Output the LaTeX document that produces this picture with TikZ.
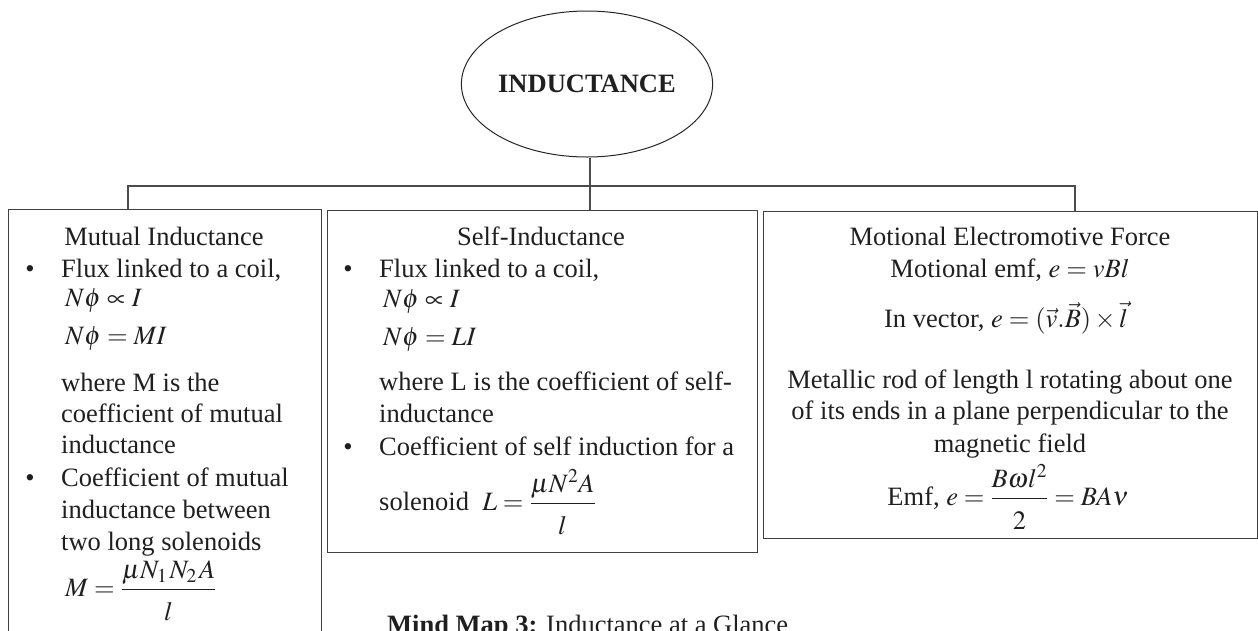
\documentclass[tikz,border=0pt]{standalone}
\usepackage{amsmath}
\usepackage{mathptmx}
\usepackage[no-math]{fontspec}
\setmainfont{Liberation Serif}
\usetikzlibrary{shapes.geometric}
\newcommand\mmfont{\fontsize{26.5}{32}\selectfont}
\newcommand\mmden[1]{\raisebox{-6pt}{$#1$}}
\begin{document}
\begin{tikzpicture}[x=1pt,y=-1pt,
  boxnode/.style={draw=black!75, line width=1.1pt, rectangle, inner sep=0pt, anchor=north west},
  txt/.style={inner sep=0pt, text=black!88, font=\mmfont, anchor=base west},
  ctxt/.style={inner sep=0pt, text=black!88, font=\mmfont, anchor=base},
  bul/.style={inner sep=0pt, text=black!88, font=\mmfont, anchor=base},
  link/.style={draw=black!70, line width=1.2pt}]
\useasboundingbox (0,0) rectangle (1258,630);
\clip (0,0) rectangle (1258,630);
% title ellipse
\node[ellipse, draw=black!85, line width=1pt, minimum width=196pt, minimum height=146pt, inner sep=0pt,
      font=\mmfont\bfseries, text=black!88] (e) at (587,84) {INDUCTANCE};
% boxes
\node[boxnode, minimum width=313pt, minimum height=440pt] (b1) at (8,209) {};
\node[boxnode, minimum width=430pt, minimum height=342pt] (b2) at (327,210) {};
\node[boxnode, minimum width=494pt, minimum height=327pt] (b3) at (763,211) {};
% connectors
\coordinate (j) at (590,186);
\coordinate (hl) at (128,186);
\coordinate (hr) at (1075,186);
\draw[link] (e.south -| j) -- (b2.north -| j);
\draw[link] (b1.north -| hl) -- (hl) -- (hr) -- (b3.north -| hr);
% box 1
\node[ctxt] (t11) at (164,245) {Mutual Inductance};
\node[bul] (u11) at (30,277) {•};
\node[txt] (t12) at (61,277) {Flux linked to a coil,};
\node[txt] (t13) at (65,306) {$N\phi \propto I$};
\node[txt] (t14) at (65,344) {$N\phi = MI$};
\node[txt] (t15) at (61,391) {where M is the};
\node[txt] (t16) at (61,422) {coefficient of mutual};
\node[txt] (t17) at (61,453) {inductance};
\node[bul] (u12) at (30,486) {•};
\node[txt] (t18) at (61,486) {Coefficient of mutual};
\node[txt] (t19) at (61,518) {inductance between};
\node[txt] (t1a) at (61,550) {two long solenoids};
\node[txt] (t1b) at (65,596) {$M = \dfrac{\mu N_{1\,} N_{2\,} A}{\mmden{l}}$};
% box 2
\node[ctxt] (t21) at (541,245) {Self-Inductance};
\node[bul] (u21) at (348,277) {•};
\node[txt] (t22) at (379,277) {Flux linked to a coil,};
\node[txt] (t23) at (383,307) {$N\phi \propto I$};
\node[txt] (t24) at (383,345) {$N\phi = LI$};
\node[txt] (t25) at (379,390) {where L is the coefficient of self-};
\node[txt] (t26) at (379,422) {inductance};
\node[bul] (u22) at (348,455) {•};
\node[txt] (t27) at (379,455) {Coefficient of self induction for a};
\node[txt] (t28) at (379,510) {solenoid\ \ $L = \dfrac{\mu N^2 A}{\mmden{l}}$};
% box 3
\node[ctxt] (t31) at (1010,245) {Motional Electromotive Force};
\node[ctxt] (t32) at (1010,277) {Motional emf, $e = vBl$};
\node[ctxt] (t33) at (1006,327) {In vector, $e = (\vec{v}.\vec{B})\times\vec{l}$};
\node[ctxt] (t34) at (1010,388) {Metallic rod of length l rotating about one};
\node[ctxt] (t35) at (1010,419) {of its ends in a plane perpendicular to the};
\node[ctxt] (t36) at (1010,452) {magnetic field};
\node[ctxt] (t37) at (1008,505) {Emf, $e = \dfrac{B\omega l^2}{\mmden{2}} = BA\nu$};
% caption
\node[txt] (cap) at (387,633) {\textbf{Mind Map 3:} Inductance at a Glance};
\end{tikzpicture}
\end{document}
